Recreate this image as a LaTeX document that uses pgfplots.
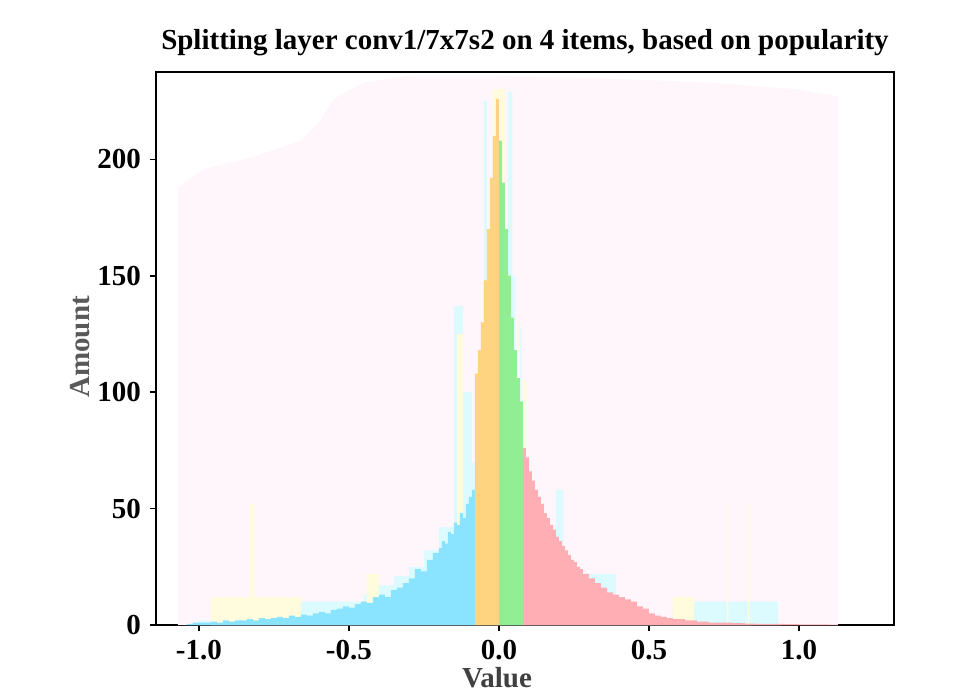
\documentclass[border=0pt]{standalone}
\usepackage{fontspec}
\setmainfont{Liberation Serif}
\usepackage{pgfplots}
\pgfplotsset{compat=1.18}
\definecolor{cblue}{RGB}{138,228,255}
\definecolor{corange}{RGB}{255,212,128}
\definecolor{cgreen}{RGB}{146,238,146}
\definecolor{cred}{RGB}{255,174,180}
\definecolor{gyellow}{RGB}{255,251,220}
\definecolor{gcyan}{RGB}{220,251,255}
\definecolor{pinkbg}{RGB}{255,246,252}
\begin{document}
\begin{tikzpicture}
\begin{axis}[
  scale only axis,
  width=369pt, height=276.5pt,
  xmin=-1.143, xmax=1.317, ymin=0, ymax=237.5,
  axis line style={line width=0.9pt},
  tick align=outside,
  xtick pos=bottom, ytick pos=left,
  major tick length=3pt,
  tick style={line width=0.8pt, black},
  xtick={-1,-0.5,0,0.5,1},
  xticklabels={-1.0,-0.5,0.0,0.5,1.0},
  ytick={0,50,100,150,200},
  yticklabels={0,50,100,150,200},
  x tick label style={font=\fontsize{14.5}{17}\selectfont\bfseries, yshift=-1pt},
  y tick label style={font=\fontsize{14.5}{17}\selectfont\bfseries, xshift=-1pt},
  title={Splitting layer conv1/7x7s2 on 4 items, based on popularity},
  title style={font=\fontsize{14.5}{17}\selectfont\bfseries, at={(axis description cs:0.5,1)}, anchor=south, inner sep=2pt},
  xlabel={Value},
  xlabel style={font=\fontsize{14.5}{17}\selectfont\bfseries, text=black!75, at={(axis description cs:0.462,-0.096)}, anchor=center},
  ylabel={Amount},
  ylabel style={font=\fontsize{14.5}{17}\selectfont\bfseries, text=black!65, at={(axis description cs:-0.103,0.503)}, anchor=center, rotate=0},
  clip=true,
]
% faint background blob
\addplot[fill=pinkbg, draw=none] coordinates {
(-1.07,0) (-1.07,188) (-0.98,196) (-0.85,200) (-0.75,204) (-0.66,208) (-0.60,216) (-0.55,226) (-0.45,233) (-0.30,236) (0.0,236) (0.3,235) (0.7,233) (1.0,230) (1.13,227) (1.13,0)} -- cycle;
% ghost layers
\addplot[const plot, fill=gcyan, draw=none] coordinates {
(-1.0,2) (-0.66,10) (-0.45,13) (-0.40,17) (-0.35,21) (-0.30,25) (-0.25,32) (-0.20,42) (-0.15,137) (-0.12,100) (-0.09,70) (-0.08,0) (-0.05,225) (-0.04,0) (0.03,229) (0.045,150) (0.055,0) (0.07,128) (0.075,0) (0.19,58) (0.215,0) (0.29,22) (0.39,0) (0.58,10) (0.93,0) (0.94,0)} \closedcycle;
\addplot[const plot, fill=gyellow, draw=none] coordinates {
(-0.96,12) (-0.83,52) (-0.815,12) (-0.66,0) (-0.44,22) (-0.40,0) (-0.34,0) (-0.14,125) (-0.12,0) (-0.02,230) (0.02,0) (0.08,105) (0.09,0) (0.58,12) (0.65,0) (0.76,52) (0.765,0) (0.83,52) (0.835,0) (0.84,0)} \closedcycle;
% blue
\addplot[const plot, fill=cblue, draw=none] coordinates {
(-1.04,0.5) (-1.02,1) (-1.00,1) (-0.98,1) (-0.96,1.5) (-0.94,1) (-0.92,2) (-0.90,1.5) (-0.88,2) (-0.86,2) (-0.84,2.5) (-0.82,2) (-0.80,3) (-0.78,2.5) (-0.76,3) (-0.74,3.5) (-0.72,3) (-0.70,4) (-0.68,3.5) (-0.66,4.5) (-0.64,4) (-0.62,5) (-0.60,5.5) (-0.58,5) (-0.56,6.5) (-0.54,7) (-0.52,8) (-0.50,7.5) (-0.48,9) (-0.46,10) (-0.44,9.5) (-0.42,12) (-0.40,13) (-0.38,12) (-0.36,15) (-0.34,16) (-0.32,18) (-0.30,20) (-0.28,24) (-0.26,23) (-0.24,28) (-0.22,31) (-0.20,33) (-0.19,36) (-0.18,35) (-0.17,40) (-0.16,39) (-0.15,44) (-0.14,43) (-0.13,48) (-0.12,46) (-0.11,52) (-0.10,55) (-0.09,58) (-0.08,58)} \closedcycle;
% orange
\addplot[const plot, fill=corange, draw=none] coordinates {
(-0.08,108) (-0.07,118) (-0.06,130) (-0.05,148) (-0.04,170) (-0.03,192) (-0.02,210) (-0.01,226) (0,226)} \closedcycle;
% green
\addplot[const plot, fill=cgreen, draw=none] coordinates {
(0,208) (0.01,190) (0.02,170) (0.03,150) (0.04,132) (0.05,118) (0.06,106) (0.07,96) (0.08,96)} \closedcycle;
% red
\addplot[const plot, fill=cred, draw=none] coordinates {
(0.08,76) (0.09,72) (0.10,66) (0.11,62) (0.12,58) (0.13,55) (0.14,52) (0.15,48) (0.16,46) (0.17,43) (0.18,41) (0.19,38) (0.20,36) (0.21,34) (0.22,32) (0.23,30) (0.24,28) (0.25,27) (0.26,25) (0.27,24) (0.28,22) (0.30,20) (0.32,18) (0.34,16) (0.36,14) (0.38,13) (0.40,12) (0.42,11) (0.44,10) (0.46,8) (0.48,7) (0.50,5) (0.52,4) (0.54,3.5) (0.56,3) (0.58,2.5) (0.60,2.5) (0.62,2) (0.64,2) (0.66,1.5) (0.68,1.5) (0.70,1) (0.74,1) (0.78,0.8) (0.82,0.6) (0.86,0.5) (0.90,0.5) (0.95,0.4) (1.0,0.3) (1.05,0.3) (1.10,0.2) (1.13,0.2)} \closedcycle;
\end{axis}
\path[use as bounding box] ([xshift=-78pt,yshift=-36.5pt]current axis.south west) rectangle ([xshift=30.5pt,yshift=36pt]current axis.north east);
\end{tikzpicture}
\end{document}
